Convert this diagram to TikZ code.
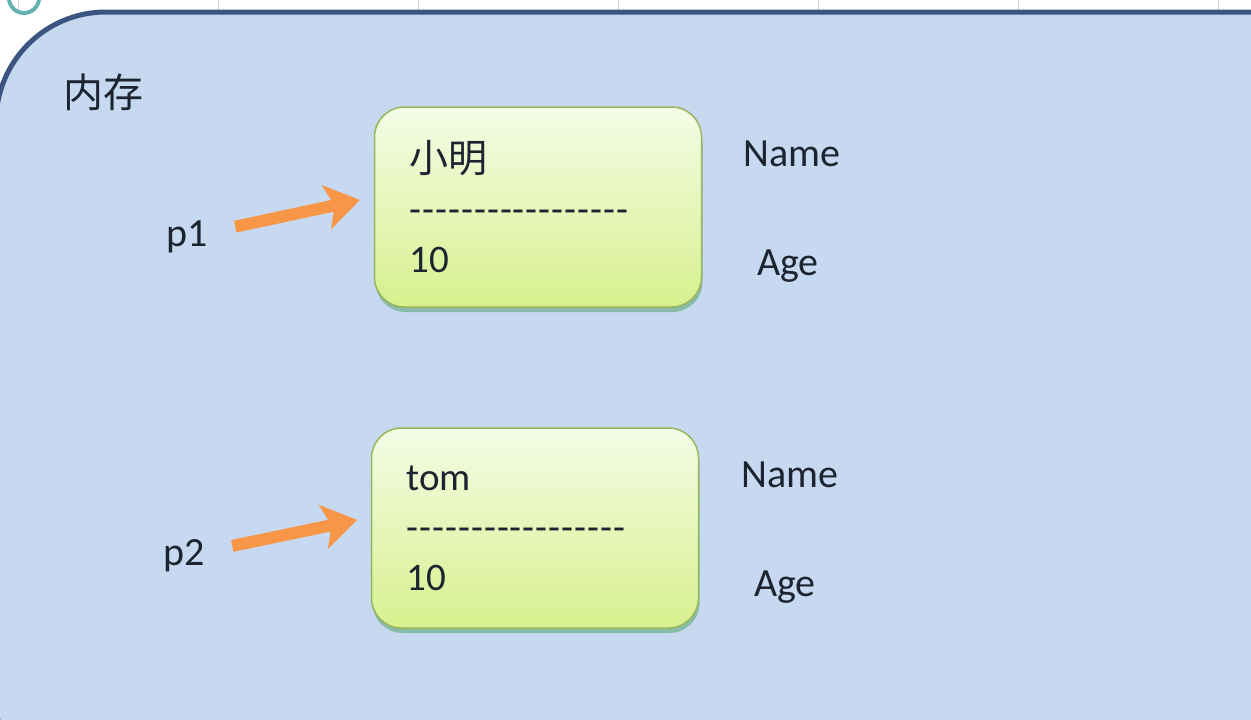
\documentclass[tikz,border=0pt]{standalone}
\usepackage{fontspec}
\setmainfont{Carlito}
\newfontfamily\cjk{Noto Sans CJK SC}
\usetikzlibrary{arrows.meta, shadows}

\definecolor{memblue}{HTML}{C6D9F1}
\definecolor{memline}{HTML}{3B5583}
\definecolor{boxtop}{HTML}{F4FCE6}
\definecolor{boxbottom}{HTML}{D8F08E}
\definecolor{boxline}{HTML}{98B75C}
\definecolor{ptrorange}{HTML}{F79646}
\definecolor{gridgray}{HTML}{D6D6D6}
\definecolor{ink}{HTML}{1C2430}

\newcommand\dashrow{\foreach \k in {1,...,17}{-\kern1pt}}

\begin{document}
\begin{tikzpicture}[x=1pt, y=-1pt,
    txt/.style = {font=\fontsize{40}{44}\selectfont, text=ink, inner sep=0pt},
    obj/.style = {draw=boxline, line width=1.5pt, rounded corners=30pt, top color=boxtop, bottom color=boxbottom,
      minimum width=327pt, minimum height=200pt, text width=257pt, inner xsep=35pt, align=left,
      font=\fontsize{39}{50}\selectfont, text=ink,
      drop shadow={shadow xshift=1pt, shadow yshift=-5pt, opacity=0.3, fill=black!55!green}},
    ptr/.style = {draw=ptrorange, line width=12pt, -{Stealth[length=34pt, width=44pt, inset=8pt]}, shorten >=14pt, shorten <=28pt}]
    \useasboundingbox (0,0) rectangle (1251,720);
    \clip (0,0) rectangle (1251,720);
    \fill[white] (0,0) rectangle (1251,720);
    \foreach \x in {18,218,...,1218} \draw[gridgray, line width=1pt] (\x,0) -- (\x,14);
    %\draw[gridgray] (0,30) -- (40,30);
    \draw[teal!60, line width=4pt] (24,-2) circle (15pt);

    \draw[memline, fill=memblue, line width=5pt, rounded corners=110pt] (-4,12) rectangle (1400,810);
    \node[font=\cjk\fontsize{40}{44}\selectfont, text=ink, inner sep=0pt, anchor=west] (mem) at (63,92) {内存};

    \node[obj] (obj1) at (538,207) {{\cjk 小明}\\\dashrow\\10};
    \node[obj] (obj2) at (535,528) {tom\\\dashrow\\10};

    \node[txt] (p1) at (187,237) {p1};
    \node[txt] (p2) at (184,556) {p2};
    \node[txt] (name1) at (792,154) {Name};
    \node[txt] (age1) at (788,266) {Age};
    \node[txt] (name2) at (790,475) {Name};
    \node[txt] (age2) at (785,587) {Age};

    \draw[ptr] (p1) -- ([yshift=10pt]obj1.west);
    \draw[ptr] (p2) -- ([yshift=11pt]obj2.west);
\end{tikzpicture}
\end{document}
